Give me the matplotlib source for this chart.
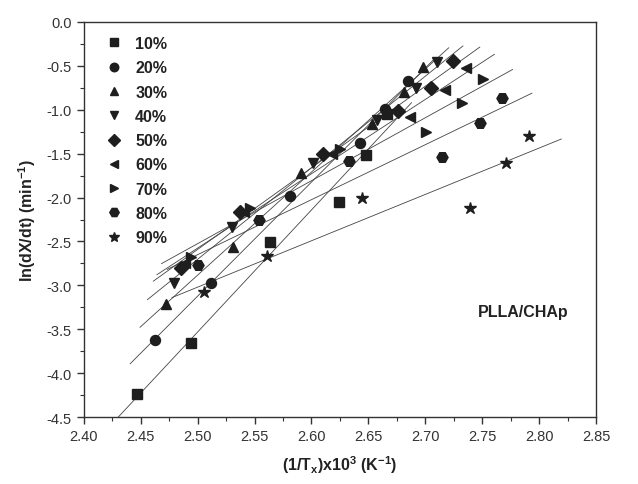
import numpy as np
import matplotlib
matplotlib.use("Agg")
import matplotlib.pyplot as plt
from matplotlib.ticker import MultipleLocator, FormatStrFormatter

plt.rcParams["font.family"] = ["Liberation Sans", "DejaVu Sans"]
plt.rcParams["mathtext.fontset"] = "custom"
plt.rcParams["mathtext.rm"] = "Liberation Sans"
plt.rcParams["mathtext.bf"] = "Liberation Sans:bold"
plt.rcParams["axes.unicode_minus"] = False

# conversion levels and their markers
labels = ["10%", "20%", "30%", "40%", "50%", "60%", "70%", "80%", "90%"]
markers = ["s", "o", "^", "v", "D", "<", ">", "H", "*"]

# (1/Tx)x10^3 and ln(dX/dt), one list per conversion
x10 = [2.447, 2.494, 2.564, 2.624, 2.648, 2.666]
y10 = [-4.24, -3.66, -2.51, -2.05, -1.52, -1.05]
x20 = [2.463, 2.512, 2.581, 2.643, 2.665, 2.685]
y20 = [-3.62, -2.97, -1.98, -1.38, -0.99, -0.67]
x30 = [2.472, 2.531, 2.591, 2.653, 2.681, 2.698]
y30 = [-3.21, -2.56, -1.72, -1.16, -0.80, -0.51]
x40 = [2.479, 2.530, 2.601, 2.658, 2.692, 2.710]
y40 = [-2.97, -2.33, -1.61, -1.12, -0.75, -0.46]
x50 = [2.485, 2.537, 2.610, 2.676, 2.705, 2.724]
y50 = [-2.80, -2.17, -1.51, -1.02, -0.75, -0.45]
x60 = [2.489, 2.541, 2.618, 2.687, 2.717, 2.736]
y60 = [-2.74, -2.16, -1.50, -1.08, -0.78, -0.53]
x70 = [2.494, 2.546, 2.625, 2.701, 2.732, 2.751]
y70 = [-2.68, -2.12, -1.45, -1.25, -0.92, -0.65]
x80 = [2.500, 2.554, 2.633, 2.715, 2.748, 2.767]
y80 = [-2.765, -2.25, -1.59, -1.54, -1.15, -0.87]
x90 = [2.506, 2.561, 2.644, 2.739, 2.771, 2.791]
y90 = [-3.08, -2.66, -2.01, -2.12, -1.61, -1.30]

xs = [x10, x20, x30, x40, x50, x60, x70, x80, x90]
ys = [y10, y20, y30, y40, y50, y60, y70, y80, y90]

ink = "#1e1e1e"
fig = plt.figure(figsize=(6.38, 4.85), dpi=100)
ax = fig.add_axes([0.1313, 0.1375, 0.8029, 0.8157])

for x, y, lab, m in zip(xs, ys, labels, markers):
    x = np.array(x)
    y = np.array(y)
    # linear fit, drawn 10% past the data range on both ends
    k, b = np.polyfit(x, y, 1)
    pad = 0.1 * (x.max() - x.min())
    xf = np.array([x.min() - pad, x.max() + pad])
    ax.plot(xf, k * xf + b, color="#444444", lw=0.6, zorder=1)
    ms = 9 if m == "*" else (8 if m == "H" else 7.2)
    ax.plot(x, y, ls="none", marker=m, ms=ms, color=ink, mec=ink, label=lab, zorder=3)

ax.set_xlim(2.40, 2.85)
ax.set_ylim(-4.5, 0.0)
ax.xaxis.set_major_locator(MultipleLocator(0.05))
ax.xaxis.set_minor_locator(MultipleLocator(0.025))
ax.yaxis.set_major_locator(MultipleLocator(0.5))
ax.yaxis.set_minor_locator(MultipleLocator(0.25))
ax.xaxis.set_major_formatter(FormatStrFormatter("%.2f"))
ax.yaxis.set_major_formatter(FormatStrFormatter("%.1f"))
ax.tick_params(which="both", direction="out", top=False, right=False,
               colors="#333333", labelsize=10.5)
ax.tick_params(which="major", length=5, width=1)
ax.tick_params(which="minor", length=3, width=0.8)
for s in ax.spines.values():
    s.set_color("#333333")
    s.set_linewidth(1)

ax.set_xlabel(r"(1/T$_\mathbf{x}$)x10$^\mathbf{3}$ (K$^\mathbf{-1}$)", fontsize=11.5,
              fontweight="bold", color="#222222", labelpad=7)
ax.set_ylabel(r"ln(dX/dt) (min$^\mathbf{-1}$)", fontsize=11.5, fontweight="bold",
              color="#222222", labelpad=6)

ax.text(2.746, -3.30, "PLLA/CHAp", fontsize=11.5, fontweight="bold",
        color="#222222", va="center", ha="left")

leg = ax.legend(loc="upper left", bbox_to_anchor=(0.016, 1.0), frameon=False,
                prop={"size": 11.5, "weight": "bold"}, handlelength=1.0,
                handletextpad=0.8, labelspacing=0.58, markerscale=0.85)
for t in leg.get_texts():
    t.set_color("#222222")

fig.savefig("out.png", dpi=100)
